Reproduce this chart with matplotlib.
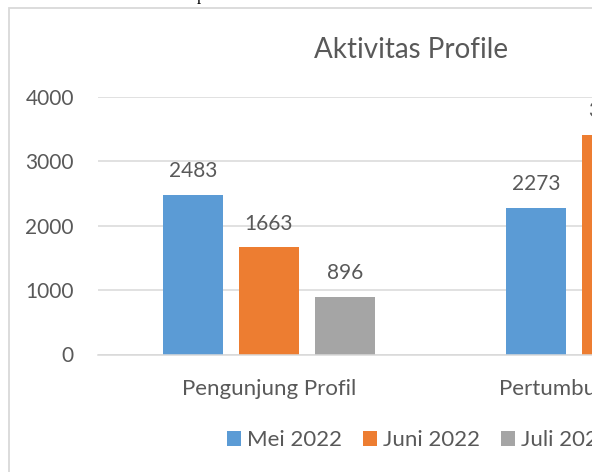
import matplotlib
matplotlib.use("Agg")
import matplotlib.pyplot as plt
from matplotlib.patches import Rectangle, Patch
import numpy as np

categories = ["Pengunjung Profil", "Pertumbuhan Pengikut"]
series_names = ["Mei 2022", "Juni 2022", "Juli 2022"]
mei = [2483, 2273]
juni = [1663, 3405]
juli = [896, 1500]
colors = ["#5B9BD5", "#ED7D31", "#A5A5A5"]
yticks = [0, 1000, 2000, 3000, 4000]
title = "Aktivitas Profile"

plt.rcParams['font.family'] = ['Lato', 'DejaVu Sans']
TXT = "#595959"
GRID = "#D9D9D9"

W, H = 592, 472
fig = plt.figure(figsize=(W / 100, H / 100), dpi=100)
fig.patch.set_facecolor("white")

def fx(px):
    return px / W

def fy(py):
    return 1 - py / H

# chart frame (cropped)
fig.patches.append(Rectangle((fx(9), fy(600)), fx(900), (600 - 7.5) / H,
                             transform=fig.transFigure, fill=False,
                             edgecolor=GRID, linewidth=1.3, zorder=0))

# fragment of document text above the chart
fig.text(fx(201), 1.0, "p", family="Liberation Serif", fontsize=12,
         color="black", ha="center", va="baseline")

left, right, bottom, top = 97.5, 97.5 + 686, 354.5, 97
ax = fig.add_axes([fx(left), fy(bottom), (right - left) / W, (bottom - top) / H])
ax.set_facecolor("none")

x = np.arange(len(categories))
bw = 60 / 343
off = 76 / 343
for i, (vals, c, name) in enumerate(zip([mei, juni, juli], colors, series_names)):
    bars = ax.bar(x + (i - 1) * off, vals, width=bw, color=c, label=name, zorder=2)
    ax.bar_label(bars, labels=[str(v) for v in vals], padding=10,
                 fontsize=15, color=TXT)

ax.set_xlim(-0.5, len(categories) - 0.5)
ax.set_ylim(0, 4000)
ax.set_yticks(yticks)
ax.set_yticklabels([str(v) for v in yticks])
ax.set_xticks(x)
ax.set_xticklabels(categories)
ax.tick_params(axis="y", length=0, pad=17, labelsize=15, labelcolor=TXT)
ax.tick_params(axis="x", length=0, pad=17.5, labelsize=16, labelcolor=TXT)
ax.yaxis.grid(True, color=GRID, linewidth=1.1, zorder=0)
ax.set_axisbelow(True)
for s in ["top", "right", "left"]:
    ax.spines[s].set_visible(False)
ax.spines["bottom"].set_color(GRID)
ax.spines["bottom"].set_linewidth(1.1)

fig.text(fx(411), fy(58), title, fontsize=20, color=TXT, ha="center", va="baseline")

handles = [Patch(facecolor=c) for c in colors]
fig.legend(handles, series_names, loc="center", bbox_to_anchor=(fx(418.5), fy(440.5)),
           ncol=3, frameon=False, fontsize=16, labelcolor=TXT,
           handlelength=0.63, handleheight=0.63, handletextpad=0.27,
           columnspacing=0.95, borderpad=0.0)

fig.savefig("out.png", dpi=100)
